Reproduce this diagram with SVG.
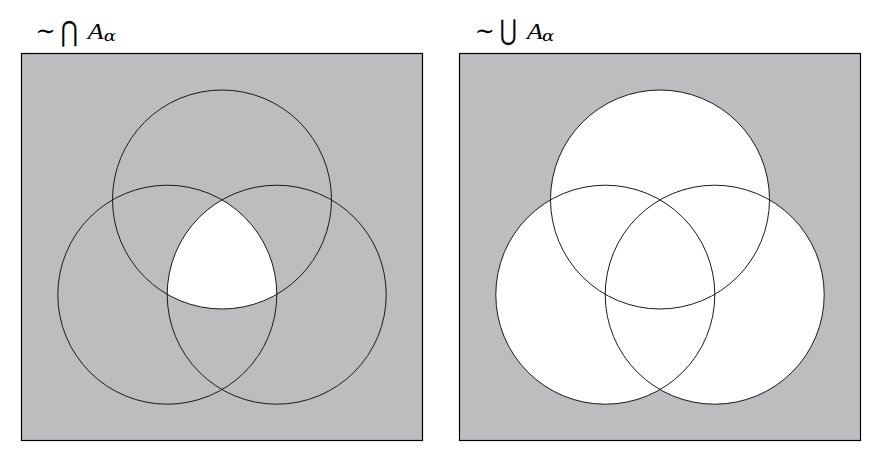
<svg xmlns="http://www.w3.org/2000/svg" width="887" height="456" viewBox="0 0 887 456">
  <style>
    .panel { fill: #bbbdbf; stroke: #000; stroke-width: 1.2; }
    .ring { fill: none; stroke: #1a1a1a; stroke-width: 1; }
    .fillw { fill: #ffffff; stroke: none; }
    .sim { font-family: "DejaVu Serif", serif; font-size: 24px; fill: #000; }
    .big { font-family: "DejaVu Serif", serif; font-size: 28.4px; fill: #000; stroke: #000; stroke-width: 0.4; }
    .var { font-family: "Liberation Serif", serif; font-style: italic; font-size: 22.2px; fill: #000; }
    .sub { font-family: "DejaVu Serif", serif; font-style: italic; font-size: 14px; fill: #000; }
  </style>
  <defs>
    <clipPath id="clipL"><circle cx="167.3" cy="294.7" r="109.5"/></clipPath>
    <clipPath id="clipR"><circle cx="276.7" cy="294.7" r="109.5"/></clipPath>
  </defs>

  <g id="label-left">
    <text class="sim" x="35.4" y="38.9">∼</text>
    <text class="big" transform="translate(60.6,41.1) scale(0.72,1)">⋂</text>
    <text class="var" transform="translate(87.5,38.7) scale(1.2,1)">A</text>
    <text class="sub" transform="translate(103.8,41.3) scale(1.3,1)">α</text>
  </g>

  <g id="label-right">
    <text class="sim" x="474.8" y="38.9">∼</text>
    <text class="big" transform="translate(499.6,40) scale(0.72,1)">⋃</text>
    <text class="var" transform="translate(526.8,38.7) scale(1.2,1)">A</text>
    <text class="sub" transform="translate(542.1,41.3) scale(1.3,1)">α</text>
  </g>

  <g id="panel-left">
    <rect class="panel" x="21.5" y="53.5" width="401" height="387"/>
    <g clip-path="url(#clipL)">
      <g clip-path="url(#clipR)">
        <circle class="fillw" cx="222" cy="199.5" r="109.5"/>
      </g>
    </g>
    <circle class="ring" cx="222" cy="199.5" r="109.5"/>
    <circle class="ring" cx="167.3" cy="294.7" r="109.5"/>
    <circle class="ring" cx="276.7" cy="294.7" r="109.5"/>
  </g>

  <g id="panel-right">
    <rect class="panel" x="459.5" y="53.5" width="401" height="387"/>
    <circle class="fillw" cx="660" cy="199.5" r="109.5"/>
    <circle class="fillw" cx="605.3" cy="294.7" r="109.5"/>
    <circle class="fillw" cx="714.7" cy="294.7" r="109.5"/>
    <circle class="ring" cx="660" cy="199.5" r="109.5"/>
    <circle class="ring" cx="605.3" cy="294.7" r="109.5"/>
    <circle class="ring" cx="714.7" cy="294.7" r="109.5"/>
  </g>
</svg>
